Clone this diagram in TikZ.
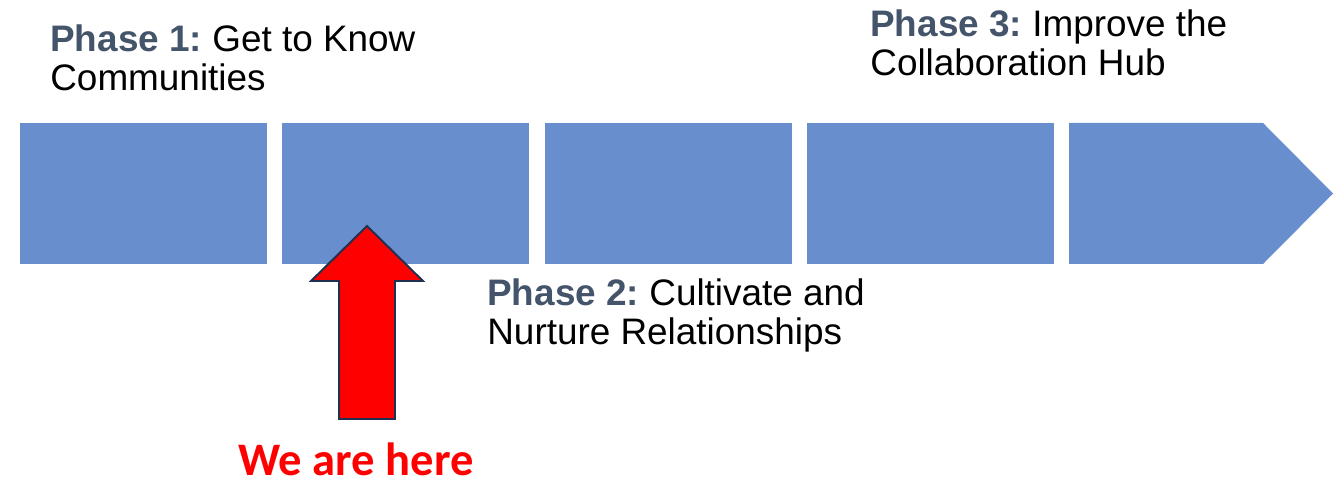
\documentclass[tikz,border=0pt]{standalone}
\usepackage{fontspec}
\setmainfont{Liberation Sans}
\newfontfamily\herefont{Carlito}
\definecolor{boxblue}{HTML}{698ECE}
\definecolor{phasegray}{HTML}{44546A}
\definecolor{arrowline}{HTML}{1F3050}
\newcommand{\phase}[1]{\textcolor{phasegray}{\textbf{#1}}}
\frenchspacing

\begin{document}
\begin{tikzpicture}[x=0.02cm, y=-0.02cm,
    stage/.style={fill=boxblue},
    phasetext/.style={anchor=base west, inner sep=0pt, align=left,
      font=\fontsize{21}{22.2}\selectfont}]
  \useasboundingbox (0,0) rectangle (1335,479);
  \def\Top{123}
  \def\Bot{264}

  % Timeline boxes
  \foreach \i in {0,1,2,3}
    \fill[stage] ({20+262.3*\i},\Top) rectangle ++(247,\Bot-\Top);
  % last box ends in a point
  \fill[stage] (1069,\Top) -- (1263,\Top) -- (1333,193.5) -- (1263,\Bot) -- (1069,\Bot) -- cycle;

  % Phase labels (anchored on the second line)
  \node[phasetext] (phase1) at (50,91) {\phase{Phase 1:} Get to Know\\Communities};
  \node[phasetext] (phase2) at (487,345) {\phase{Phase 2:} Cultivate and\\Nurture Relationships};
  \node[phasetext] (phase3) at (870,76) {\phase{Phase 3:} Improve the\\Collaboration Hub};

  % Marker arrow
  \draw[fill=red, draw=arrowline, line width=1.1pt, miter limit=4]
    (367,226) -- (423,281) -- (395,281) -- (395,419) -- (339,419)
    -- (339,281) -- (311,281) -- cycle;
  \node[anchor=base, inner sep=0pt, text=red, font=\herefont\bfseries\fontsize{26.5}{30}\selectfont]
    (here) at (356,475) {We are here};
\end{tikzpicture}
\end{document}
